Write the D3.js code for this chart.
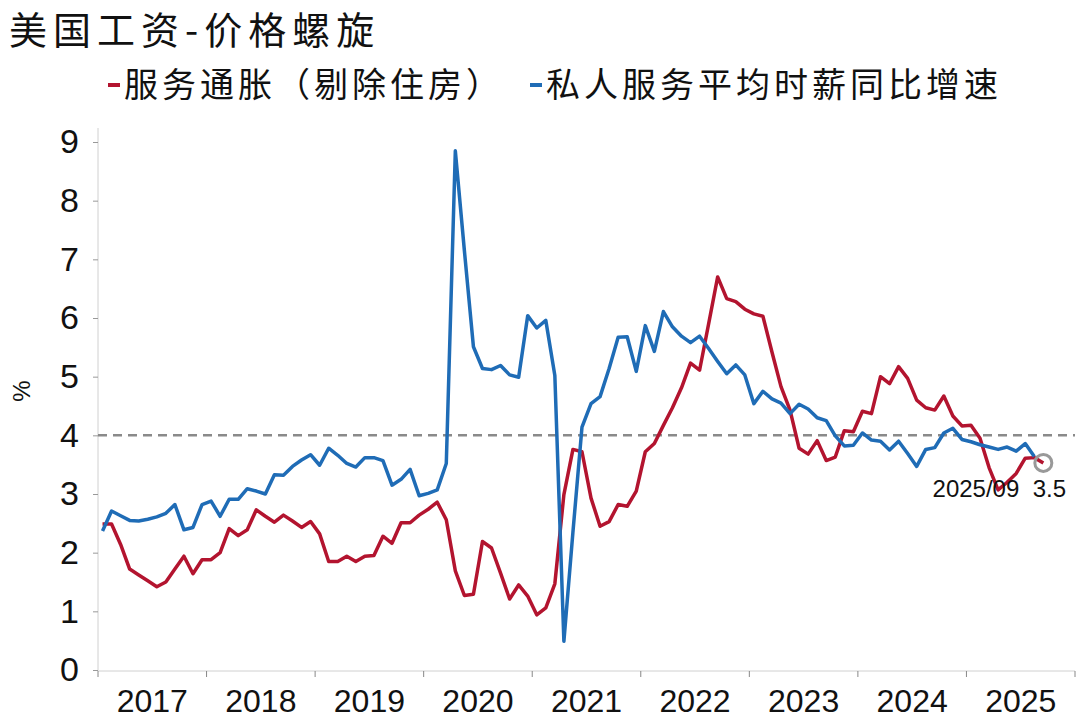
<!DOCTYPE html>
<html>
<head>
<meta charset="utf-8">
<script src="https://cdn.jsdelivr.net/npm/d3@7"></script>
<style>
  html, body { margin: 0; padding: 0; background: #fff; }
  svg { display: block; }
</style>
</head>
<body>
<svg id="chart" width="1080" height="719"></svg>
<script>
// ---- data ----
const title = "美国工资-价格螺旋";
const seriesNames = ["服务通胀（剔除住房）", "私人服务平均时薪同比增速"];
const years = ["2017", "2018", "2019", "2020", "2021", "2022", "2023", "2024", "2025"];
const yTicks = [0, 1, 2, 3, 4, 5, 6, 7, 8, 9];
const refLine = 4;
// monthly values from 2017-01
const servicesExHousing = [
  2.49, 2.49, 2.14, 1.72, 1.62, 1.52, 1.42, 1.50, 1.72, 1.94, 1.64, 1.88,
  1.88, 2.00, 2.41, 2.29, 2.39, 2.73, 2.62, 2.52, 2.64, 2.54, 2.43, 2.53,
  2.32, 1.85, 1.85, 1.94, 1.85, 1.94, 1.95, 2.28, 2.16, 2.51, 2.51, 2.64,
  2.74, 2.86, 2.56, 1.69, 1.27, 1.29, 2.19, 2.08, 1.65, 1.21, 1.45, 1.26,
  0.94, 1.06, 1.47, 2.99, 3.76, 3.72, 2.93, 2.45, 2.53, 2.82, 2.79, 3.05,
  3.72, 3.86, 4.17, 4.47, 4.81, 5.23, 5.11, 5.90, 6.70, 6.33, 6.28, 6.15,
  6.07, 6.03, 5.42, 4.83, 4.43, 3.78, 3.68, 3.91, 3.57, 3.63, 4.08, 4.06,
  4.41, 4.37, 5.00, 4.88, 5.17, 4.97, 4.60, 4.47, 4.43, 4.67, 4.33, 4.16,
  4.17, 3.95, 3.45, 3.07, 3.20, 3.35, 3.61, 3.62, 3.53
];
const privateServicesWages = [
  2.37, 2.71, 2.63, 2.55, 2.54, 2.57, 2.61, 2.67, 2.82, 2.39, 2.43, 2.82,
  2.88, 2.62, 2.91, 2.91, 3.09, 3.05, 3.00, 3.33, 3.32, 3.47, 3.58, 3.67,
  3.49, 3.78, 3.66, 3.52, 3.46, 3.62, 3.62, 3.57, 3.15, 3.25, 3.42, 2.97,
  3.01, 3.07, 3.52, 8.85, 7.15, 5.51, 5.14, 5.12, 5.19, 5.03, 4.99, 6.04,
  5.83, 5.96, 5.02, 0.49, 2.35, 4.14, 4.54, 4.66, 5.14, 5.67, 5.68, 5.09,
  5.87, 5.43, 6.11, 5.85, 5.69, 5.58, 5.69, 5.48, 5.26, 5.05, 5.20, 5.03,
  4.54, 4.75, 4.62, 4.55, 4.37, 4.53, 4.45, 4.30, 4.25, 3.99, 3.82, 3.83,
  4.04, 3.92, 3.90, 3.75, 3.90, 3.69, 3.47, 3.76, 3.79, 4.04, 4.12, 3.93,
  3.89, 3.84, 3.80, 3.76, 3.80, 3.73, 3.86, 3.64
];
const lastLabel = "2025/09";

// ---- layout ----
const svg = d3.select("#chart");
const pLeft = 98, pRight = 1075, pTop = 142, pBottom = 670;
const red = "#B3142F", blue = "#1F6CB6";

const months = [];
years.forEach(yr => { for (let m = 1; m <= 12; m++) months.push(yr + "-" + String(m).padStart(2, "0")); });

const x = d3.scaleBand().domain(months).range([pLeft, pRight]).padding(0);
const xc = m => x(m) + x.bandwidth() / 2;
const y = d3.scaleLinear().domain([0, 9]).range([pBottom, pTop]);

// title
svg.append("text").attr("x", 9).attr("y", 44)
  .attr("font-family", "Noto Sans CJK SC").attr("font-size", 38).attr("fill", "#111")
  .attr("letter-spacing", 6)
  .text(title);

// legend
const legendY = 85;
const legendItems = [
  { name: seriesNames[0], color: red, x: 108 },
  { name: seriesNames[1], color: blue, x: 530 }
];
legendItems.forEach(it => {
  svg.append("line").attr("x1", it.x).attr("x2", it.x + 12).attr("y1", legendY).attr("y2", legendY)
    .attr("stroke", it.color).attr("stroke-width", 4);
  svg.append("text").attr("x", it.x + 16).attr("y", legendY + 12)
    .attr("font-family", "Noto Sans CJK SC").attr("font-size", 34).attr("fill", "#111")
    .attr("letter-spacing", 4)
    .text(it.name);
});

// y axis
const yAxis = d3.axisLeft(y).tickValues(yTicks).tickSize(5).tickPadding(14).tickFormat(d3.format("d"));
const gy = svg.append("g").attr("transform", `translate(${pLeft},0)`).call(yAxis);
gy.select(".domain").attr("stroke", "#d0d0d0").attr("d", `M0,${pTop - 14}V${pBottom}`);
gy.selectAll(".tick line").attr("stroke", "#999");
gy.selectAll(".tick text").attr("font-family", "Liberation Sans").attr("font-size", 34).attr("fill", "#111");

svg.append("text").attr("transform", `translate(30,${(pTop + pBottom) / 2 - 15}) rotate(-90)`)
  .attr("text-anchor", "middle").attr("font-family", "Liberation Sans").attr("font-size", 24).attr("fill", "#111")
  .text("%");

// x axis
const yearStarts = years.map(yr => yr + "-01");
const xAxis = d3.axisBottom(x).tickValues(yearStarts).tickSize(6).tickFormat("");
const gx = svg.append("g").attr("transform", `translate(0,${pBottom + 1})`).call(xAxis);
gx.select(".domain").attr("stroke", "#d0d0d0").attr("d", `M${pLeft},0H${pRight}`);
gx.selectAll(".tick").attr("transform", d => `translate(${x(d)},0)`);
gx.selectAll(".tick line").attr("stroke", "#888");
gx.append("line").attr("x1", pRight).attr("x2", pRight).attr("y1", 0).attr("y2", 6).attr("stroke", "#888");
gx.selectAll(".yearlabel").data(years).enter().append("text")
  .attr("class", "yearlabel")
  .attr("x", yr => (x(yr + "-01") + x(yr + "-12") + x.bandwidth()) / 2)
  .attr("y", 41).attr("text-anchor", "middle")
  .attr("font-family", "Liberation Sans").attr("font-size", 32).attr("fill", "#111")
  .text(yr => yr);

// reference line at 4
svg.append("line").attr("x1", pLeft).attr("x2", pRight).attr("y1", y(refLine)).attr("y2", y(refLine))
  .attr("stroke", "#8a8a8a").attr("stroke-width", 2.5).attr("stroke-dasharray", "9,6");

// lines
const line = d3.line().x((d, i) => xc(months[i])).y(d => y(d));
svg.append("path").datum(servicesExHousing).attr("d", line)
  .attr("fill", "none").attr("stroke", red).attr("stroke-width", 3.5).attr("stroke-linejoin", "round");
svg.append("path").datum(privateServicesWages).attr("d", line)
  .attr("fill", "none").attr("stroke", blue).attr("stroke-width", 3.5).attr("stroke-linejoin", "round");

// last point annotation
const li = servicesExHousing.length - 1;
const lastVal = servicesExHousing[li];
svg.append("circle").attr("cx", xc(months[li])).attr("cy", y(lastVal)).attr("r", 8.5)
  .attr("fill", "none").attr("stroke", "#999").attr("stroke-width", 3);
svg.append("text").attr("x", 1066).attr("y", y(lastVal) + 34).attr("text-anchor", "end")
  .attr("font-family", "Liberation Sans").attr("font-size", 24).attr("fill", "#111")
  .style("white-space", "pre")
  .text(lastLabel + "  " + d3.format(".1f")(lastVal));
</script>
</body>
</html>
